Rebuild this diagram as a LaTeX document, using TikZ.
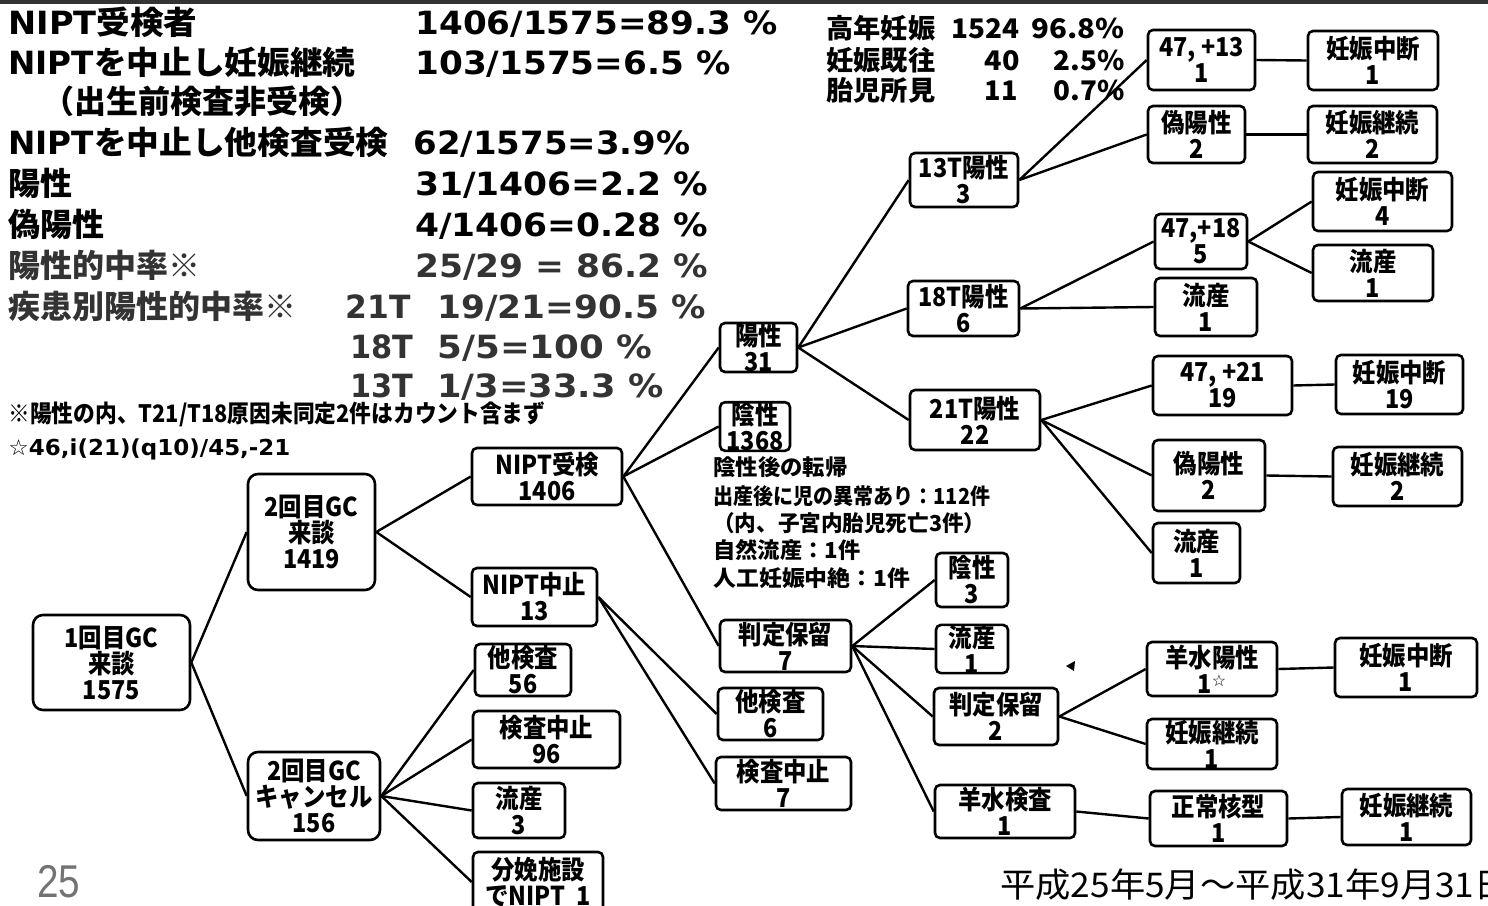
\documentclass[tikz,border=0pt]{standalone}
\usepackage{fontspec}
\usepackage{graphicx}
\setmainfont{DejaVu Sans}
\newfontfamily\jp{Noto Sans CJK JP}
\newfontfamily\jpc{Noto Sans CJK JP}[FakeStretch=0.9]
\newfontfamily\dv{DejaVu Sans}
\newfontfamily\ls{Liberation Sans}
\newsavebox\swbox
\newdimen\swlen
\newcommand\sw[2]{\sbox\swbox{#2}\swlen=\wd\swbox\pgfmathsetmacro\swf{#1*0.5/\swlen}\scalebox{\swf}[1]{\usebox\swbox}}
\newcommand\bx[7][bx]{\pgfmathsetmacro\bw{(#5-#3)*0.5}\pgfmathsetmacro\bh{(#6-#4)*0.5}\node[#1,minimum width=\bw pt,minimum height=\bh pt] (#2) at ({(#3+#5)/2},{(#4+#6)/2}) {#7};}
\tikzset{
  bx/.style={draw, line width=1.3pt, rounded corners=2.5pt, inner sep=0pt, align=center,
    font=\jpc\bfseries\fontsize{13}{13}\selectfont},
  bigbx/.style={bx, rounded corners=5pt},
  ln/.style={line width=1.2pt},
  lab/.style={anchor=base west, inner sep=0pt, font=\jp\bfseries\fontsize{16}{19}\selectfont},
  val/.style={anchor=base west, inner sep=0pt, font=\dv\bfseries\fontsize{16}{19}\selectfont},
  stat/.style={inner sep=0pt, font=\jpc\bfseries\fontsize{13.5}{15}\selectfont},
  note/.style={anchor=base west, inner sep=0pt, font=\jp\bfseries\fontsize{11}{13}\selectfont},
  gr/.style={text=black!80},
}
\begin{document}
\begin{tikzpicture}[x=0.5pt,y=-0.5pt]
\useasboundingbox (0,0) rectangle (1488,905);
\fill[black!80] (0,0) rectangle (1488,4);

% ---- left statistics ----
\node[lab] (l1) at (8,34) {\sw{189}{\dv NIPT\jp 受検者}};
\node[lab] (l2) at (8,74) {\sw{347}{\dv NIPT\jp を中止し妊娠継続}};
\node[lab] (l3) at (42,113) {（出生前検査非受検）};
\node[lab] (l4) at (8,154) {\sw{380}{\dv NIPT\jp を中止し他検査受検}};
\node[lab] (l5) at (8,195) {陽性};
\node[lab] (l6) at (8,236) {偽陽性};
\node[lab,gr] (l7) at (8,277) {陽性的中率※};
\node[lab,gr] (l8) at (8,318) {疾患別陽性的中率※};

\node[val] (v1) at (415,34) {\sw{362}{1406/1575=89.3 \%}};
\node[val] (v2) at (415,74) {\sw{315}{103/1575=6.5 \%}};
\node[val] (v4) at (413,154) {\sw{277}{62/1575=3.9\%}};
\node[val] (v5) at (415,195) {\sw{293}{31/1406=2.2 \%}};
\node[val] (v6) at (415,236) {\sw{293}{4/1406=0.28 \%}};
\node[val,gr] (v7) at (415,277) {\sw{293}{25/29 = 86.2 \%}};
\node[val,gr] (v8a) at (345,318) {\sw{65}{21T}};
\node[val,gr] (v8b) at (437,318) {\sw{268}{19/21=90.5 \%}};
\node[val,gr] (v9a) at (350,358) {\sw{63}{18T}};
\node[val,gr] (v9b) at (437,358) {\sw{215}{5/5=100 \%}};
\node[val,gr] (v10a) at (350,397) {\sw{63}{13T}};
\node[val,gr] (v10b) at (437,397) {\sw{226}{1/3=33.3 \%}};

% ---- top-right statistics ----
\node[stat,anchor=base west] (s1a) at (826,38) {\sw{109}{高年妊娠}};
\node[stat,anchor=base east] (s1b) at (1020,38) {\sw{68}{1524}};
\node[stat,anchor=base east] (s1c) at (1125,38) {\sw{93}{96.8\%}};
\node[stat,anchor=base west] (s2a) at (826,70) {\sw{109}{妊娠既往}};
\node[stat,anchor=base east] (s2b) at (1020,70) {\sw{35}{40}};
\node[stat,anchor=base east] (s2c) at (1125,70) {\sw{71}{2.5\%}};
\node[stat,anchor=base west] (s3a) at (826,100) {\sw{109}{胎児所見}};
\node[stat,anchor=base east] (s3b) at (1018,100) {\sw{33}{11}};
\node[stat,anchor=base east] (s3c) at (1125,100) {\sw{71}{0.7\%}};

% ---- footnotes ----
\node[note,font=\jp\bfseries\fontsize{12}{13}\selectfont] (f1) at (8,422) {\sw{537}{※陽性の内、T21/T18原因未同定2件はカウント含まず}};
\node[note,font=\dv\bfseries\fontsize{11}{13}\selectfont] (f2) at (8,455) {\sw{282}{{\mdseries ☆}46,i(21)(q10)/45,-21}};

% ---- negative follow-up note ----
\node[note] (n1) at (713,475) {\sw{134}{陰性後の転帰}};
\node[note] (n2) at (713,504) {\sw{277}{出産後に児の異常あり：112件}};
\node[note] (n3) at (713,531) {\sw{272}{（内、子宮内胎児死亡3件）}};
\node[note] (n4) at (713,558) {\sw{147}{自然流産：1件}};
\node[note] (n5) at (713,586) {\sw{197}{人工妊娠中絶：1件}};

% ---- page number and period ----
\node[anchor=base west, inner sep=0pt, text=black!55, font=\ls\fontsize{23}{23}\selectfont] (pg) at (37,897) {\sw{43}{25}};
\node[anchor=base west, inner sep=0pt, font=\jp\fontsize{17}{17}\selectfont] (date) at (1000,897) {\sw{474}{平成25年5月～平成31年9月31}日};

% ---- boxes ----
\bx[bigbx]{g1}{33}{615}{190}{710}{1回目GC\\来談\\1575}
\bx[bigbx]{g2a}{248}{474}{375}{590}{2回目GC\\来談\\1419}
\bx[bigbx]{g2b}{248}{752}{380}{840}{2回目GC\\キャンセル\\156}
\bx{nipt}{472}{448}{622}{505}{NIPT受検\\1406}
\bx{stop}{472}{568}{597}{626}{NIPT中止\\13}
\bx{oth56}{475}{644}{571}{696}{他検査\\56}
\bx{ks96}{473}{711}{620}{768}{検査中止\\96}
\bx{ry3}{473}{783}{565}{838}{流産\\3}
\bx{bun}{473}{852}{603}{912}{分娩施設\\でNIPT\ \ 1}
\bx{pos31}{720}{323}{797}{372}{陽性\\31}
\bx{neg}{720}{403}{790}{450}{陰性\\1368}
\bx{hold7}{720}{620}{851}{672}{判定保留\\7}
\bx{oth6}{718}{688}{823}{740}{他検査\\6}
\bx{ks7}{716}{757}{851}{810}{検査中止\\7}
\bx{t13}{910}{153}{1018}{207}{13T陽性\\3}
\bx{t18}{908}{281}{1019}{336}{18T陽性\\6}
\bx{t21}{910}{390}{1040}{450}{21T陽性\\22}
\bx{k13}{1148}{30}{1255}{90}{47, +13\\1}
\bx{fp1}{1148}{106}{1245}{163}{偽陽性\\2}
\bx{ab13}{1308}{31}{1438}{90}{妊娠中断\\1}
\bx{cont1}{1308}{106}{1437}{163}{妊娠継続\\2}
\bx{k18}{1155}{214}{1247}{269}{47,+18\\5}
\bx{ry18}{1155}{278}{1257}{336}{流産\\1}
\bx{ab18}{1313}{172}{1452}{231}{妊娠中断\\4}
\bx{ry18b}{1313}{245}{1433}{301}{流産\\1}
\bx{k21}{1153}{356}{1292}{415}{47, +21\\19}
\bx{ab21}{1336}{355}{1463}{414}{妊娠中断\\19}
\bx{fp2}{1153}{440}{1265}{511}{偽陽性\\2}
\bx{cont2}{1333}{447}{1462}{506}{妊娠継続\\2}
\bx{ry21}{1153}{523}{1240}{583}{流産\\1}
\bx{neg3}{936}{553}{1008}{607}{陰性\\3}
\bx{ry7}{936}{625}{1008}{673}{流産\\1}
\bx{hold2}{934}{688}{1058}{745}{判定保留\\2}
\bx{amnio}{935}{785}{1075}{838}{羊水検査\\1}
\bx{apos}{1147}{642}{1277}{696}{羊水陽性\\1\raisebox{0.45ex}{\dv\mdseries\fontsize{8}{8}\selectfont ☆}}
\bx{acont}{1147}{719}{1277}{769}{妊娠継続\\1}
\bx{aab}{1335}{638}{1477}{697}{妊娠中断\\1}
\bx{norm}{1150}{791}{1287}{846}{正常核型\\1}
\bx{ncont}{1342}{789}{1471}{845}{妊娠継続\\1}

% ---- connectors ----
\draw[ln] (g1.east) -- (g2a.west);
\draw[ln] (g1.east) -- (g2b.west);
\draw[ln] (g2a.east) -- (nipt.west);
\draw[ln] (g2a.east) -- (stop.west);
\draw[ln] (g2b.east) -- (oth56.west);
\draw[ln] (g2b.east) -- (ks96.west);
\draw[ln] (g2b.east) -- (ry3.west);
\draw[ln] (g2b.east) -- (bun.west);
\draw[ln] (nipt.east) -- (pos31.west);
\draw[ln] (nipt.east) -- (neg.west);
\draw[ln] (nipt.east) -- (hold7.west);
\draw[ln] (stop.east) -- (oth6.west);
\draw[ln] (stop.east) -- (ks7.west);
\draw[ln] (pos31.east) -- (t13.west);
\draw[ln] (pos31.east) -- (t18.west);
\draw[ln] (pos31.east) -- (t21.west);
\draw[ln] (t13.east) -- (k13.west);
\draw[ln] (t13.east) -- (fp1.west);
\draw[ln] (k13.east) -- (ab13.west);
\draw[ln] (fp1.east) -- (cont1.west);
\draw[ln] (t18.east) -- (k18.west);
\draw[ln] (t18.east) -- (ry18.west);
\draw[ln] (k18.east) -- (ab18.west);
\draw[ln] (k18.east) -- (ry18b.west);
\draw[ln] (t21.east) -- (k21.west);
\draw[ln] (t21.east) -- (fp2.west);
\draw[ln] (t21.east) -- (ry21.west);
\draw[ln] (k21.east) -- (ab21.west);
\draw[ln] (fp2.east) -- (cont2.west);
\draw[ln] (hold7.east) -- (neg3.west);
\draw[ln] (hold7.east) -- (ry7.west);
\draw[ln] (hold7.east) -- (hold2.west);
\draw[ln] (hold7.east) -- (amnio.west);
\draw[ln] (hold2.east) -- (apos.west);
\draw[ln] (hold2.east) -- (acont.west);
\draw[ln] (apos.east) -- (aab.west);
\draw[ln] (amnio.east) -- (norm.west);
\draw[ln] (norm.east) -- (ncont.west);

% small mark
\fill (1066,666) -- (1075,661) -- (1074,671) -- cycle;
\end{tikzpicture}
\end{document}
